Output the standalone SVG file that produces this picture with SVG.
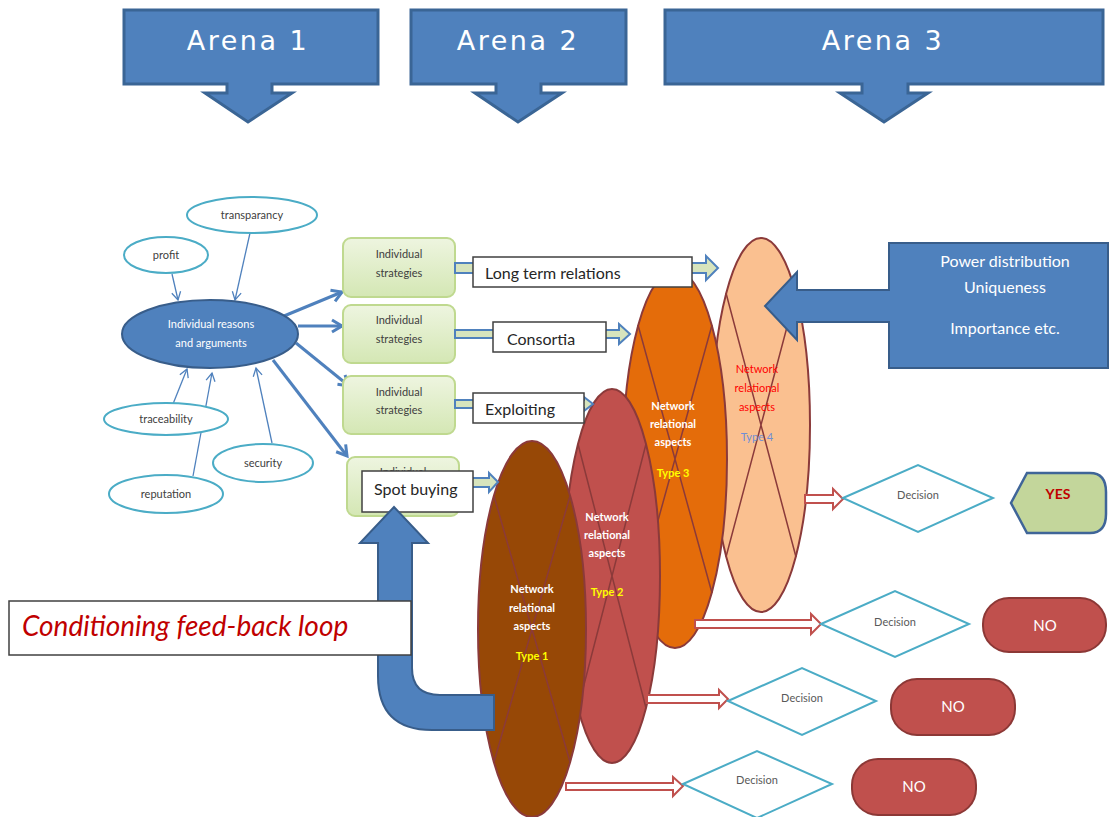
<svg xmlns="http://www.w3.org/2000/svg" width="1110" height="817" viewBox="0 0 1110 817">
  <defs>
    <style>
      .banner { fill: #4F81BD; stroke: #3A6595; stroke-width: 3; }
      .banner-text { font-family: "DejaVu Sans", sans-serif; font-size: 27px; fill: #ffffff; text-anchor: middle; letter-spacing: 2.5px; }
      .factor { fill: #ffffff; stroke: #4BACC6; stroke-width: 2; }
      .factor-text { font-family: Lato, "Liberation Sans", sans-serif; font-size: 11px; fill: #404040; text-anchor: middle; }
      .core { fill: #4F81BD; stroke: #385D8A; stroke-width: 2; }
      .core-text { font-family: Lato, "Liberation Sans", sans-serif; font-size: 11px; fill: #ffffff; text-anchor: middle; }
      .thin { stroke: #4F81BD; stroke-width: 1.3; fill: none; marker-end: url(#thinHead); }
      .thick { stroke: #4F81BD; stroke-width: 3; fill: none; marker-end: url(#thickHead); }
      .strategy { fill: url(#greenFill); stroke: #BFD98F; stroke-width: 2; }
      .strategy-text { font-family: Lato, "Liberation Sans", sans-serif; font-size: 11px; fill: #404040; text-anchor: middle; }
      .block { fill: #D7E4BD; stroke: #4F81BD; stroke-width: 2; }
      .label { fill: #ffffff; stroke: #404040; stroke-width: 1.5; }
      .label-text { font-family: Lato, "Liberation Sans", sans-serif; font-size: 16px; fill: #262626; }
      .net { stroke: #8B3A3A; stroke-width: 2; }
      .cross { stroke: #8B3A3A; stroke-width: 1.5; fill: none; }
      .net-text { font-family: Lato, "Liberation Sans", sans-serif; font-size: 11px; font-weight: bold; fill: #ffffff; text-anchor: middle; }
      .type-text { font-family: Lato, "Liberation Sans", sans-serif; font-size: 11px; font-weight: bold; fill: #FFFF00; text-anchor: middle; }
      .net4-text { font-family: Lato, "Liberation Sans", sans-serif; font-size: 11px; fill: #FF0000; text-anchor: middle; }
      .hollow { fill: #ffffff; stroke: #C0504D; stroke-width: 2; }
      .decision { fill: #ffffff; stroke: #4BACC6; stroke-width: 2; }
      .decision-text { font-family: Lato, "Liberation Sans", sans-serif; font-size: 11px; fill: #595959; text-anchor: middle; }
      .no { fill: #C0504D; stroke: #8C3836; stroke-width: 2; }
      .no-text { font-family: Lato, "Liberation Sans", sans-serif; font-size: 15px; fill: #ffffff; text-anchor: middle; }
      .power-text { font-family: Lato, "Liberation Sans", sans-serif; font-size: 16px; fill: #ffffff; text-anchor: middle; }
    </style>
    <linearGradient id="greenFill" x1="0" y1="0" x2="0" y2="1">
      <stop offset="0" stop-color="#EEF5E0"/>
      <stop offset="1" stop-color="#D4E7B4"/>
    </linearGradient>
    <clipPath id="aboveSpot">
      <rect x="340" y="450" width="130" height="21"/>
    </clipPath>
    <marker id="thinHead" markerUnits="userSpaceOnUse" markerWidth="12" markerHeight="12" refX="10" refY="6" orient="auto">
      <path d="M2,1.5 L10,6 L2,10.5" fill="none" stroke="#4F81BD" stroke-width="1.3"/>
    </marker>
    <marker id="thickHead" markerUnits="userSpaceOnUse" markerWidth="16" markerHeight="16" refX="13" refY="8" orient="auto">
      <path d="M3,2 L13,8 L3,14" fill="none" stroke="#4F81BD" stroke-width="3"/>
    </marker>
  </defs>

  <rect width="1110" height="817" fill="#ffffff"/>

  <!-- Arena banners -->
  <g id="arena1">
    <path class="banner" d="M124 10 H378 V84 H272 V93 H292 L248 122 L205 93 H227 V84 H124 Z"/>
    <text class="banner-text" x="248" y="50">Arena 1</text>
  </g>
  <g id="arena2">
    <path class="banner" d="M411 10 H626 V84 H541 V93 H562 L518 122 L475 93 H496 V84 H411 Z"/>
    <text class="banner-text" x="518" y="50">Arena 2</text>
  </g>
  <g id="arena3">
    <path class="banner" d="M665 10 H1103 V84 H908 V93 H928 L884 122 L840 93 H862 V84 H665 Z"/>
    <text class="banner-text" x="883" y="50">Arena 3</text>
  </g>

  <!-- Connectors -->
  <g id="connectors">
    <line class="thin" x1="172" y1="274" x2="178" y2="300"/>
    <line class="thin" x1="250" y1="233" x2="235" y2="300"/>
    <line class="thin" x1="173" y1="404" x2="187" y2="369"/>
    <line class="thin" x1="193" y1="476" x2="212" y2="373"/>
    <line class="thin" x1="272" y1="443" x2="256" y2="368"/>
    <line class="thick" x1="284" y1="316" x2="342" y2="292"/>
    <line class="thick" x1="298" y1="326" x2="342" y2="326"/>
    <line class="thick" x1="296" y1="343" x2="349" y2="386"/>
    <line class="thick" x1="273" y1="360" x2="347" y2="456"/>
  </g>

  <!-- Factor ellipses -->
  <g id="transparancy">
    <ellipse class="factor" cx="252" cy="215" rx="65" ry="18"/>
    <text class="factor-text" x="252" y="219">transparancy</text>
  </g>
  <g id="profit">
    <ellipse class="factor" cx="166" cy="255" rx="42" ry="18"/>
    <text class="factor-text" x="166" y="259">profit</text>
  </g>
  <g id="traceability">
    <ellipse class="factor" cx="166" cy="419" rx="62" ry="16"/>
    <text class="factor-text" x="166" y="423">traceability</text>
  </g>
  <g id="security">
    <ellipse class="factor" cx="263" cy="463" rx="50" ry="19"/>
    <text class="factor-text" x="263" y="467">security</text>
  </g>
  <g id="reputation">
    <ellipse class="factor" cx="166" cy="494" rx="57" ry="19"/>
    <text class="factor-text" x="166" y="498">reputation</text>
  </g>
  <g id="reasons">
    <ellipse class="core" cx="210" cy="334" rx="88" ry="34"/>
    <text class="core-text" x="211" y="328">Individual reasons</text>
    <text class="core-text" x="211" y="347">and arguments</text>
  </g>

  <!-- Network relational aspects, back to front -->
  <g id="type4">
    <ellipse class="net" cx="761" cy="425" rx="49" ry="187" fill="#FAC090"/>
    <path class="cross" d="M726 293 L796 557 M796 293 L726 557"/>
    <text class="net4-text" x="757" y="373">Network</text>
    <text class="net4-text" x="757" y="392">relational</text>
    <text class="net4-text" x="757" y="411">aspects</text>
    <text class="net4-text" x="757" y="441" style="fill:#6F8FD6">Type 4</text>
  </g>
  <g id="type3">
    <ellipse class="net" cx="675" cy="459" rx="52" ry="189" fill="#E46C0A"/>
    <path class="cross" d="M638 325 L712 593 M712 325 L638 593"/>
    <text class="net-text" x="673" y="410">Network</text>
    <text class="net-text" x="673" y="428">relational</text>
    <text class="net-text" x="673" y="446">aspects</text>
    <text class="type-text" x="673" y="477">Type 3</text>
  </g>
  <g id="type2">
    <ellipse class="net" cx="612" cy="576" rx="48" ry="187" fill="#C0504D"/>
    <path class="cross" d="M578 444 L646 708 M646 444 L578 708"/>
    <text class="net-text" x="607" y="521">Network</text>
    <text class="net-text" x="607" y="539">relational</text>
    <text class="net-text" x="607" y="557">aspects</text>
    <text class="type-text" x="607" y="596">Type 2</text>
  </g>
  <g id="type1">
    <ellipse class="net" cx="532" cy="629" rx="54" ry="188" fill="#974806"/>
    <path class="cross" d="M494 496 L570 762 M570 496 L494 762"/>
    <text class="net-text" x="532" y="593">Network</text>
    <text class="net-text" x="532" y="612">relational</text>
    <text class="net-text" x="532" y="630">aspects</text>
    <text class="type-text" x="532" y="660">Type 1</text>
  </g>

  <!-- Strategy boxes -->
  <g id="strategy1">
    <rect class="strategy" x="343" y="238" width="112" height="59" rx="8"/>
    <text class="strategy-text" x="399" y="258">Individual</text>
    <text class="strategy-text" x="399" y="277">strategies</text>
  </g>
  <g id="strategy2">
    <rect class="strategy" x="343" y="305" width="112" height="58" rx="8"/>
    <text class="strategy-text" x="399" y="324">Individual</text>
    <text class="strategy-text" x="399" y="343">strategies</text>
  </g>
  <g id="strategy3">
    <rect class="strategy" x="343" y="376" width="112" height="58" rx="8"/>
    <text class="strategy-text" x="399" y="396">Individual</text>
    <text class="strategy-text" x="399" y="414">strategies</text>
  </g>
  <g id="strategy4">
    <rect class="strategy" x="347" y="457" width="112" height="59" rx="8"/>
    <!-- only the top of this label shows above the Spot buying box -->
    <text class="strategy-text" x="403" y="476" clip-path="url(#aboveSpot)">Individual</text>
  </g>

  <!-- Strategy block arrows -->
  <g id="strategy-arrows">
    <path class="block" d="M455 263 H706 V256 L718 268 L706 280 V273 H455 Z"/>
    <path class="block" d="M455 330 H619 V324 L630 334 L619 344 V338 H455 Z"/>
    <path class="block" d="M455 400 H584 V397 L593 404 L584 411 V408 H455 Z"/>
    <path class="block" d="M459 478 H489 V473 L498 482 L489 492 V487 H459 Z"/>
  </g>

  <!-- Strategy labels -->
  <g id="long-term">
    <rect class="label" x="473" y="257" width="219" height="30"/>
    <text class="label-text" x="485" y="279">Long term relations</text>
  </g>
  <g id="consortia">
    <rect class="label" x="493" y="322" width="113" height="30"/>
    <text class="label-text" x="507" y="345">Consortia</text>
  </g>
  <g id="exploiting">
    <rect class="label" x="473" y="393" width="111" height="30"/>
    <text class="label-text" x="485" y="415">Exploiting</text>
  </g>
  <g id="spot-buying">
    <rect class="label" x="362" y="471" width="111" height="41"/>
    <text class="label-text" x="374" y="495">Spot buying</text>
  </g>

  <!-- Feedback loop arrow -->
  <g id="feedback">
    <path d="M394 507 L428 543 L412 543 L412 668 Q412 695 440 695 L494 695 L494 730 L432 730 Q378 730 378 676 L378 543 L360 543 Z" fill="#4F81BD" stroke="#385D8A" stroke-width="2"/>
  </g>
  <g id="feedback-label">
    <rect x="9" y="601" width="402" height="54" fill="#ffffff" stroke="#404040" stroke-width="1.5"/>
    <text x="22" y="636" font-family="Lato, 'Liberation Sans', sans-serif" font-size="28" font-style="italic" fill="#C00000">Conditioning feed-back loop</text>
  </g>

  <!-- Power distribution callout -->
  <g id="power">
    <path d="M1108 243 H889 V290 H797 V272 L765 306 L797 340 V322 H889 V368 H1108 Z" fill="#4F81BD" stroke="#385D8A" stroke-width="2"/>
    <text class="power-text" x="1005" y="267">Power distribution</text>
    <text class="power-text" x="1005" y="293">Uniqueness</text>
    <text class="power-text" x="1005" y="334">Importance etc.</text>
  </g>

  <!-- Outcome arrows -->
  <g id="outcome-arrows">
    <path class="hollow" d="M805 495 H833 V489 L843 499 L833 509 V503 H805 Z"/>
    <path class="hollow" d="M695 620 H811 V614 L821 624 L811 634 V628 H695 Z"/>
    <path class="hollow" d="M647 695 H719 V690 L728 699 L719 708 V703 H647 Z"/>
    <path class="hollow" d="M566 783 H673 V777 L683 786 L673 796 V790 H566 Z"/>
  </g>

  <!-- Decisions -->
  <g id="decision1">
    <path class="decision" d="M843 498 L918 465 L993 498 L918 532 Z"/>
    <text class="decision-text" x="918" y="499">Decision</text>
  </g>
  <g id="decision2">
    <path class="decision" d="M821 624 L895 591 L969 624 L895 657 Z"/>
    <text class="decision-text" x="895" y="626">Decision</text>
  </g>
  <g id="decision3">
    <path class="decision" d="M728 701 L802 668 L876 701 L802 735 Z"/>
    <text class="decision-text" x="802" y="702">Decision</text>
  </g>
  <g id="decision4">
    <path class="decision" d="M683 784 L757 751 L832 784 L757 818 Z"/>
    <text class="decision-text" x="757" y="784">Decision</text>
  </g>

  <!-- Results -->
  <g id="yes">
    <path d="M1027 473 H1090 Q1106 473 1106 492 V514 Q1106 533 1090 533 H1027 L1011 503 Z" fill="#C3D69B" stroke="#3F6598" stroke-width="2.5"/>
    <text x="1058" y="499" font-family="Lato, 'Liberation Sans', sans-serif" font-size="14" font-weight="bold" fill="#C00000" text-anchor="middle">YES</text>
  </g>
  <g id="no1">
    <rect class="no" x="983" y="598" width="123" height="54" rx="26"/>
    <text class="no-text" x="1045" y="631">NO</text>
  </g>
  <g id="no2">
    <rect class="no" x="891" y="679" width="124" height="56" rx="26"/>
    <text class="no-text" x="953" y="712">NO</text>
  </g>
  <g id="no3">
    <rect class="no" x="852" y="759" width="124" height="56" rx="26"/>
    <text class="no-text" x="914" y="792">NO</text>
  </g>
</svg>
